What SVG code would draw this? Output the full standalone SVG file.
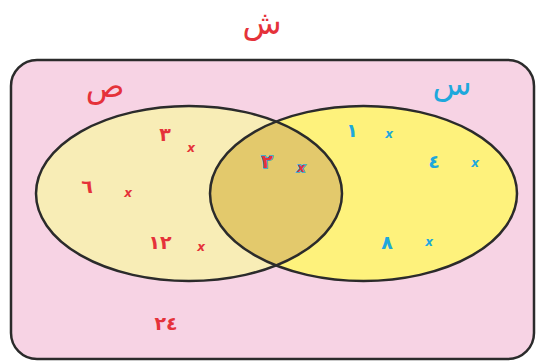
<svg xmlns="http://www.w3.org/2000/svg" width="537" height="362" viewBox="0 0 537 362">
<style>
.r{fill:#e5323a}
.c{fill:#1ea8dc}
.t{font-family:"DejaVu Sans",sans-serif;text-anchor:middle}
.n{font-size:19px;font-weight:bold}
.x{font-family:"DejaVu Sans",sans-serif;font-size:12px;font-style:italic;font-weight:bold;text-anchor:middle}
.L{font-size:32px}
.e{stroke:#2b2b2b;stroke-width:2.5}
.o{stroke:#1ea8dc;stroke-width:1.6;paint-order:stroke}
</style>
<defs>
<clipPath id="clipA"><ellipse cx="189" cy="193.5" rx="153" ry="87.5"/></clipPath>
</defs>
<rect width="537" height="362" fill="#ffffff"/>
<g id="universe">
<rect x="11" y="60" width="523" height="299" rx="26" fill="#f7d3e4" stroke="#2b2b2b" stroke-width="2.5"/>
<text class="t L r" x="262" y="34">ش</text>
</g>
<g id="setA">
<ellipse cx="189" cy="193.5" rx="153" ry="87.5" fill="#f8edb6"/>
</g>
<g id="setB">
<ellipse cx="363.5" cy="193.5" rx="153.5" ry="87.5" fill="#fef27c"/>
</g>
<g id="intersection">
<ellipse cx="363.5" cy="193.5" rx="153.5" ry="87.5" fill="#e3c96c" clip-path="url(#clipA)"/>
</g>
<g id="outlines" fill="none">
<ellipse class="e" cx="189" cy="193.5" rx="153" ry="87.5"/>
<ellipse class="e" cx="363.5" cy="193.5" rx="153.5" ry="87.5"/>
</g>
<g id="labels">
<text class="t L r" x="105" y="97">ص</text>
<text class="t L c" x="452" y="95">س</text>
</g>
<g id="elements">
<text class="t n r" x="165" y="141">٣</text><text class="x r" x="191" y="152">x</text>
<text class="t n r" x="87" y="193">٦</text><text class="x r" x="128" y="197">x</text>
<text class="t n r" x="160" y="249">١٢</text><text class="x r" x="201" y="251">x</text>
<text class="t n r o" x="267" y="168">٢</text><text class="x r o" x="301" y="172">x</text>
<text class="t n c" x="352" y="137">١</text><text class="x c" x="389" y="138">x</text>
<text class="t n c" x="434" y="168">٤</text><text class="x c" x="475" y="167">x</text>
<text class="t n c" x="387" y="249">٨</text><text class="x c" x="429" y="246">x</text>
<text class="t n r" x="166" y="330">٢٤</text>
</g>
</svg>
